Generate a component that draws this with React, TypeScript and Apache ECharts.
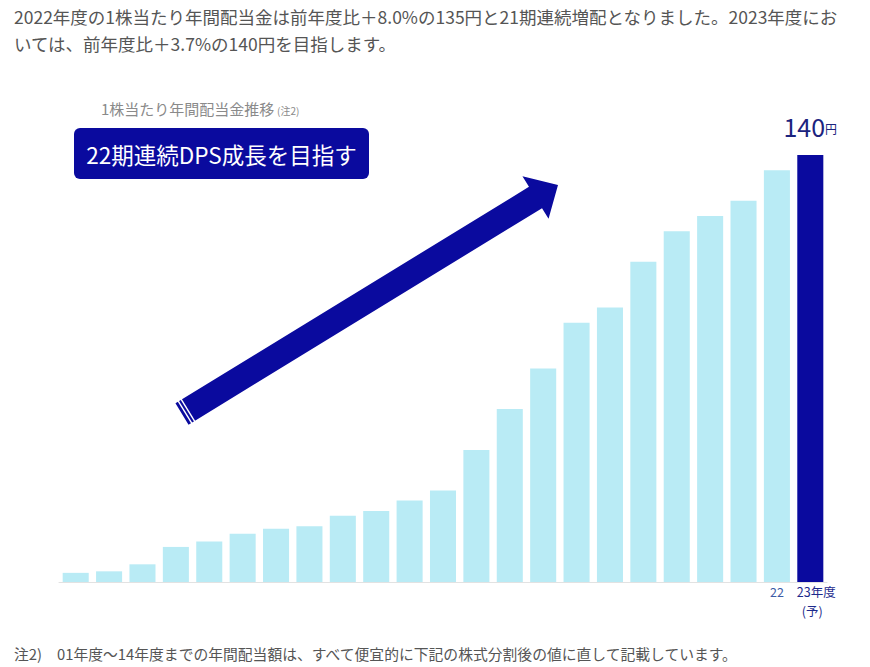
import { useEffect, useRef } from 'react';
import * as echarts from 'echarts';

// 年度 (01〜23) と 1株当たり年間配当金 (円, 株式分割後換算)
const years = [
  '01', '02', '03', '04', '05', '06', '07', '08', '09', '10', '11', '12',
  '13', '14', '15', '16', '17', '18', '19', '20', '21', '22', '23',
];
const dps = [
  3.0, 3.5, 5.8, 11.5, 13.3, 15.8, 17.5, 18.3, 21.7, 23.3, 26.7, 30,
  43.3, 56.7, 70, 85, 90, 105, 115, 120, 125, 135, 140,
];

const NAVY = '#0a0a9e';
const LIGHT = '#b9ebf5';
const FONT = '"Noto Sans CJK JP", "Noto Sans", sans-serif';

export default function App() {
  const chartRef = useRef<HTMLDivElement>(null);

  useEffect(() => {
    if (!chartRef.current) return;
    const chart = echarts.init(chartRef.current, null, { renderer: 'svg' });

    // Arrow geometry (annotation only)
    const tail = [182, 414];
    const base = [535.5, 197.5];
    const tip = [558, 185];
    const dx = base[0] - tail[0];
    const dy = base[1] - tail[1];
    const len = Math.sqrt(dx * dx + dy * dy);
    const u = [dx / len, dy / len];
    const n = [-u[1], u[0]];
    const hw = 12.5;
    const hh = 25;
    const pt = (p: number[], a: number, b: number) => [
      p[0] + n[0] * a + u[0] * b,
      p[1] + n[1] * a + u[1] * b,
    ];
    const arrowPts = [
      pt(tail, -hw, 0),
      pt(base, -hw, 0),
      pt(base, -hh, 0),
      tip,
      pt(base, hh, 0),
      pt(base, hw, 0),
      pt(tail, hw, 0),
    ];
    const stripe = (off: number) => ({
      type: 'line',
      shape: {
        x1: pt(tail, -hw - 1, off)[0],
        y1: pt(tail, -hw - 1, off)[1],
        x2: pt(tail, hw + 1, off)[0],
        y2: pt(tail, hw + 1, off)[1],
      },
      style: { stroke: '#fff', lineWidth: 1.4 },
      z: 101,
    });

    const labelBase = { fontSize: 12.5, fontFamily: FONT, lineHeight: 14 };

    const option: echarts.EChartsOption = {
      animation: false,
      backgroundColor: '#fff',
      textStyle: { fontFamily: FONT },
      grid: { left: 59, right: 43, top: 155, bottom: 85, containLabel: false },
      xAxis: [
        {
          type: 'category',
          data: years,
          axisLine: { lineStyle: { color: '#e2e2e2', width: 1 } },
          axisTick: { show: false },
          axisLabel: {
            interval: 0,
            margin: 2,
            formatter: (v: string, i: number) => {
              if (i === years.length - 2) return `{a|${v}}`;
              if (i === years.length - 1) return `{b|${v}年度}`;
              return '';
            },
            rich: {
              a: { ...labelBase, color: '#3d5ca6' },
              b: { ...labelBase, color: '#1c2a8c', padding: [0, 0, 0, 12] },
            },
          },
        },
        {
          type: 'category',
          data: years,
          position: 'bottom',
          axisLine: { show: false },
          axisTick: { show: false },
          axisLabel: {
            interval: 0,
            margin: 21,
            formatter: (_v: string, i: number) =>
              i === years.length - 1 ? '{c|(予)}' : '',
            rich: {
              c: { ...labelBase, color: '#1c2a8c', padding: [0, 0, 0, 4] },
            },
          },
        },
      ],
      yAxis: {
        type: 'value',
        min: 0,
        max: 140,
        show: false,
        splitLine: { show: false },
      },
      series: [
        {
          type: 'bar',
          barCategoryGap: '22%',
          data: dps.map((v, i) =>
            i === dps.length - 1
              ? {
                  value: v,
                  itemStyle: { color: NAVY },
                  label: {
                    show: true,
                    position: 'top',
                    distance: 17,
                    formatter: '{n|{c}}{y|円}',
                    rich: {
                      n: { color: '#1b237e', fontSize: 25, fontFamily: FONT },
                      y: { color: '#1b237e', fontSize: 12, fontFamily: FONT, padding: [5, 0, 0, 0] },
                    },
                  },
                }
              : { value: v, itemStyle: { color: LIGHT } }
          ),
        },
      ],
      graphic: [
        {
          type: 'text',
          left: 14,
          top: 8,
          style: {
            text: '2022年度の1株当たり年間配当金は前年度比＋8.0%の135円と21期連続増配となりました。2023年度にお',
            fill: '#555',
            font: `17.5px ${FONT}`,
          },
        },
        {
          type: 'text',
          left: 14,
          top: 35,
          style: {
            text: 'いては、前年度比＋3.7%の140円を目指します。',
            fill: '#555',
            font: `17.5px ${FONT}`,
          },
        },
        {
          type: 'text',
          left: 101,
          top: 101,
          style: { text: '1株当たり年間配当金推移', fill: '#8a8a8a', font: `15px ${FONT}` },
        },
        {
          type: 'text',
          left: 277,
          top: 105,
          style: { text: '(注2)', fill: '#8a8a8a', font: `10px ${FONT}` },
        },
        {
          type: 'rect',
          shape: { x: 74, y: 128, width: 295, height: 51, r: 6 },
          style: { fill: NAVY },
          z: 100,
        },
        {
          type: 'text',
          x: 221.5,
          y: 153.5,
          style: {
            text: '22期連続DPS成長を目指す',
            fill: '#fff',
            font: `22.5px ${FONT}`,
            align: 'center',
            verticalAlign: 'middle',
          },
          z: 101,
        },
        {
          type: 'polygon',
          shape: { points: arrowPts },
          style: { fill: NAVY },
          z: 100,
        },
        stripe(3.5),
        stripe(7),
        {
          type: 'text',
          left: 14,
          top: 646,
          style: { text: '注2)', fill: '#555', font: `14.8px ${FONT}` },
        },
        {
          type: 'text',
          left: 57,
          top: 646,
          style: {
            text: '01年度～14年度までの年間配当額は、すべて便宜的に下記の株式分割後の値に直して記載しています。',
            fill: '#555',
            font: `14.8px ${FONT}`,
          },
        },
      ] as any,
    };

    chart.setOption(option);
    return () => chart.dispose();
  }, []);

  return (
    <div style={{ position: 'absolute', left: 0, top: 0 }}>
      <div ref={chartRef} style={{ width: '870px', height: '667px' }} />
    </div>
  );
}
